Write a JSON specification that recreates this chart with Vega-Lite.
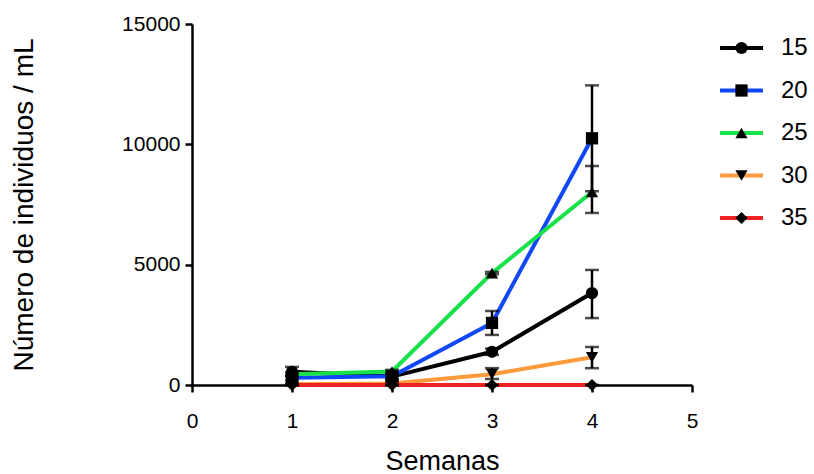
{
  "$schema": "https://vega.github.io/schema/vega-lite/v6.json",
  "padding": {"left": 10, "top": 13, "right": 0, "bottom": 0},
  "background": "white",
  "config": {
    "view": {"stroke": null},
    "font": "Liberation Sans",
    "axis": {
      "grid": false,
      "domainColor": "black",
      "domainWidth": 2.5,
      "tickColor": "black",
      "tickWidth": 2.5,
      "tickSize": 7,
      "labelColor": "black",
      "labelFont": "Liberation Sans",
      "titleFont": "Liberation Sans",
      "titleColor": "black",
      "titleFontWeight": "normal"
    }
  },
  "datasets": {
    "pts": [
      {"series": "15", "week": 1, "value": 550, "lo": 350, "hi": 750},
      {"series": "15", "week": 2, "value": 350, "lo": 200, "hi": 500},
      {"series": "15", "week": 3, "value": 1380, "lo": 1250, "hi": 1510},
      {"series": "15", "week": 4, "value": 3820, "lo": 2780, "hi": 4780},
      {"series": "20", "week": 1, "value": 300, "lo": 200, "hi": 400},
      {"series": "20", "week": 2, "value": 360, "lo": 260, "hi": 460},
      {"series": "20", "week": 3, "value": 2580, "lo": 2080, "hi": 3075},
      {"series": "20", "week": 4, "value": 10250, "lo": 8050, "hi": 12450},
      {"series": "25", "week": 1, "value": 450, "lo": 380, "hi": 520},
      {"series": "25", "week": 2, "value": 560, "lo": 490, "hi": 630},
      {"series": "25", "week": 3, "value": 4650, "lo": 4600, "hi": 4700},
      {"series": "25", "week": 4, "value": 8020, "lo": 7150, "hi": 9100},
      {"series": "30", "week": 1, "value": 30, "lo": 0, "hi": 80},
      {"series": "30", "week": 2, "value": 60, "lo": 0, "hi": 120},
      {"series": "30", "week": 3, "value": 450, "lo": 250, "hi": 700},
      {"series": "30", "week": 4, "value": 1150, "lo": 700, "hi": 1580},
      {"series": "35", "week": 1, "value": 0, "lo": 0, "hi": 0},
      {"series": "35", "week": 2, "value": 0, "lo": 0, "hi": 0},
      {"series": "35", "week": 3, "value": 0, "lo": 0, "hi": 0},
      {"series": "35", "week": 4, "value": 0, "lo": 0, "hi": 0}
    ],
    "leg": [
      {"series": "15"}, {"series": "20"}, {"series": "25"}, {"series": "30"}, {"series": "35"}
    ]
  },
  "spacing": 20,
  "hconcat": [
    {
      "width": 500,
      "height": 361,
      "data": {"name": "pts"},
      "encoding": {
        "x": {
          "field": "week", "type": "quantitative",
          "scale": {"domain": [0, 5], "nice": false},
          "axis": {"values": [0, 1, 2, 3, 4, 5], "format": "d", "title": "Semanas", "labelFontSize": 21, "titleFontSize": 27, "labelPadding": 18, "titlePadding": 17, "labelFlush": false}
        }
      },
      "layer": [
        {
          "mark": {"type": "line", "strokeWidth": 4},
          "encoding": {
            "y": {
              "field": "value", "type": "quantitative",
              "scale": {"domain": [0, 15000], "nice": false},
              "axis": {"values": [0, 5000, 10000, 15000], "format": "d", "title": "Número de individuos / mL", "labelFontSize": 21, "titleFontSize": 28, "labelPadding": 5, "titlePadding": 83, "labelFlush": false}
            },
            "color": {
              "field": "series", "type": "nominal",
              "scale": {"domain": ["15", "20", "25", "30", "35"], "range": ["#000000", "#1048f8", "#18e24a", "#fd9a3c", "#ee2222"]},
              "legend": null
            }
          }
        },
        {
          "mark": {"type": "rule", "color": "black", "strokeWidth": 2.5},
          "encoding": {
            "y": {"field": "lo", "type": "quantitative"},
            "y2": {"field": "hi"}
          }
        },
        {
          "mark": {"type": "tick", "orient": "horizontal", "color": "black", "size": 14, "thickness": 2.5},
          "encoding": {"y": {"field": "lo", "type": "quantitative"}}
        },
        {
          "mark": {"type": "tick", "orient": "horizontal", "color": "black", "size": 14, "thickness": 2.5},
          "encoding": {"y": {"field": "hi", "type": "quantitative"}}
        },
        {
          "mark": {"type": "point", "filled": true, "color": "black", "opacity": 1, "size": 150},
          "encoding": {
            "y": {"field": "value", "type": "quantitative"},
            "shape": {
              "field": "series", "type": "nominal",
              "scale": {"domain": ["15", "20", "25", "30", "35"], "range": ["circle", "square", "triangle-up", "triangle-down", "diamond"]},
              "legend": null
            }
          }
        }
      ]
    },
    {
      "width": 90,
      "height": 361,
      "data": {"name": "leg"},
      "encoding": {
        "y": {"field": "series", "type": "ordinal", "scale": {"type": "point", "range": [24, 194], "padding": 0}, "axis": null}
      },
      "layer": [
        {
          "mark": {"type": "rule", "strokeWidth": 4},
          "encoding": {
            "x": {"datum": 0, "type": "quantitative", "scale": {"domain": [0, 90], "nice": false}, "axis": null},
            "x2": {"datum": 43},
            "color": {"field": "series", "type": "nominal", "legend": null}
          }
        },
        {
          "mark": {"type": "point", "filled": true, "color": "black", "opacity": 1, "size": 150},
          "encoding": {
            "x": {"datum": 21.5, "type": "quantitative"},
            "shape": {"field": "series", "type": "nominal", "legend": null}
          }
        },
        {
          "mark": {"type": "text", "align": "left", "baseline": "middle", "fontSize": 24, "font": "Liberation Sans", "color": "black"},
          "encoding": {
            "x": {"datum": 61, "type": "quantitative"},
            "text": {"field": "series"}
          }
        }
      ]
    }
  ]
}
